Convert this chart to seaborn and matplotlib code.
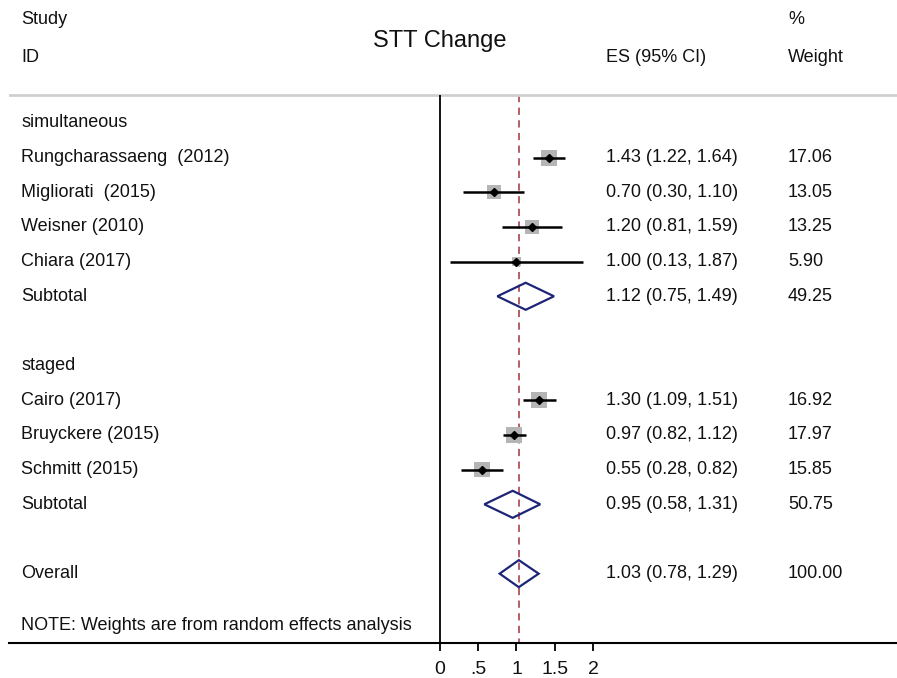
import numpy as np
import pandas as pd
import matplotlib
matplotlib.use("Agg")
import matplotlib.pyplot as plt
from matplotlib.patches import Polygon
import seaborn as sns

# forest plot data
labels = ["simultaneous", "Rungcharassaeng  (2012)", "Migliorati  (2015)", "Weisner (2010)",
          "Chiara (2017)", "Subtotal", "staged", "Cairo (2017)", "Bruyckere (2015)",
          "Schmitt (2015)", "Subtotal", "Overall"]
kinds = ["group", "study", "study", "study", "study", "pooled",
         "group", "study", "study", "study", "pooled", "pooled"]
rows = [0, 1, 2, 3, 4, 5, 7, 8, 9, 10, 11, 13]
es = [np.nan, 1.43, 0.70, 1.20, 1.00, 1.12, np.nan, 1.30, 0.97, 0.55, 0.95, 1.03]
lo = [np.nan, 1.22, 0.30, 0.81, 0.13, 0.75, np.nan, 1.09, 0.82, 0.28, 0.58, 0.78]
hi = [np.nan, 1.64, 1.10, 1.59, 1.87, 1.49, np.nan, 1.51, 1.12, 0.82, 1.31, 1.29]
weight = [np.nan, 17.06, 13.05, 13.25, 5.90, 49.25, np.nan, 16.92, 17.97, 15.85, 50.75, 100.00]
xticks = [0, 0.5, 1, 1.5, 2]
xticklabels = ["0", ".5", "1", "1.5", "2"]

df = pd.DataFrame({"label": labels, "kind": kinds, "row": rows,
                   "es": es, "lo": lo, "hi": hi, "weight": weight})

sns.set_theme(style="white")
plt.rcParams["font.family"] = ["Liberation Sans", "DejaVu Sans"]
plt.rcParams["text.color"] = "#111111"
plt.rcParams["xtick.color"] = "black"
plt.rcParams["xtick.labelcolor"] = "#111111"

fig = plt.figure(figsize=(8.97, 6.78), dpi=100)
ax = fig.add_axes([9 / 897, 35 / 678, 888 / 897, 643 / 678])
ax.set_xlim(-5.634, 5.974)
ax.set_ylim(15, -3.545)

top = -0.807
fs = 13

ax.axhline(top, color="#cfcfcf", lw=2)
ax.vlines(0, top, 15, color="black", lw=1.3)
overall = df[df.label == "Overall"].es.iloc[0]
ax.vlines(overall, top, 15, colors="#b0525c", linestyles=(0, (4, 3)), lw=1.3, zorder=1)

studies = df[df.kind == "study"]
ax.scatter(studies.es, studies.row, s=studies.weight * 7.75, marker="s",
           color="#b5b5b5", linewidths=0, zorder=2)
ax.hlines(studies.row, studies.lo, studies.hi, color="black", lw=1.8, zorder=3)
ax.plot(studies.es, studies.row, "D", color="black", ms=4.5, zorder=4)

h = 0.39
for _, r in df[df.kind == "pooled"].iterrows():
    pts = [(r.lo, r.row), (r.es, r.row - h), (r.hi, r.row), (r.es, r.row + h)]
    ax.add_patch(Polygon(pts, closed=True, fill=False, edgecolor="#1d2577", lw=1.6, zorder=3))

xl, xe, xw = -5.477, 2.17, 4.55
for _, r in df.iterrows():
    ax.text(xl, r.row, r.label, fontsize=fs, va="center", ha="left")
    if r.kind != "group":
        ax.text(xe, r.row, f"{r.es:.2f} ({r.lo:.2f}, {r.hi:.2f})", fontsize=fs, va="center")
        ax.text(xw, r.row, f"{r.weight:.2f}", fontsize=fs, va="center")

ax.text(xl, 14.5, "NOTE: Weights are from random effects analysis", fontsize=fs, va="center")

# headers
ax.text(xl, -2.97, "Study", fontsize=fs, va="center")
ax.text(xl, -1.90, "ID", fontsize=fs, va="center")
ax.text(0, -2.35, "STT Change", fontsize=17, va="center", ha="center")
ax.text(xe, -1.90, "ES (95% CI)", fontsize=fs, va="center")
ax.text(xw, -2.97, "%", fontsize=fs, va="center")
ax.text(xw, -1.90, "Weight", fontsize=fs, va="center")

for s in ["left", "right", "top"]:
    ax.spines[s].set_visible(False)
ax.spines["bottom"].set_color("black")
ax.spines["bottom"].set_linewidth(1.5)
ax.set_yticks([])
ax.set_xticks(xticks)
ax.set_xticklabels(xticklabels)
ax.tick_params(axis="x", direction="out", length=6, width=1.3,
               labelsize=14, pad=7, bottom=True)

fig.savefig("out.png", dpi=100)
